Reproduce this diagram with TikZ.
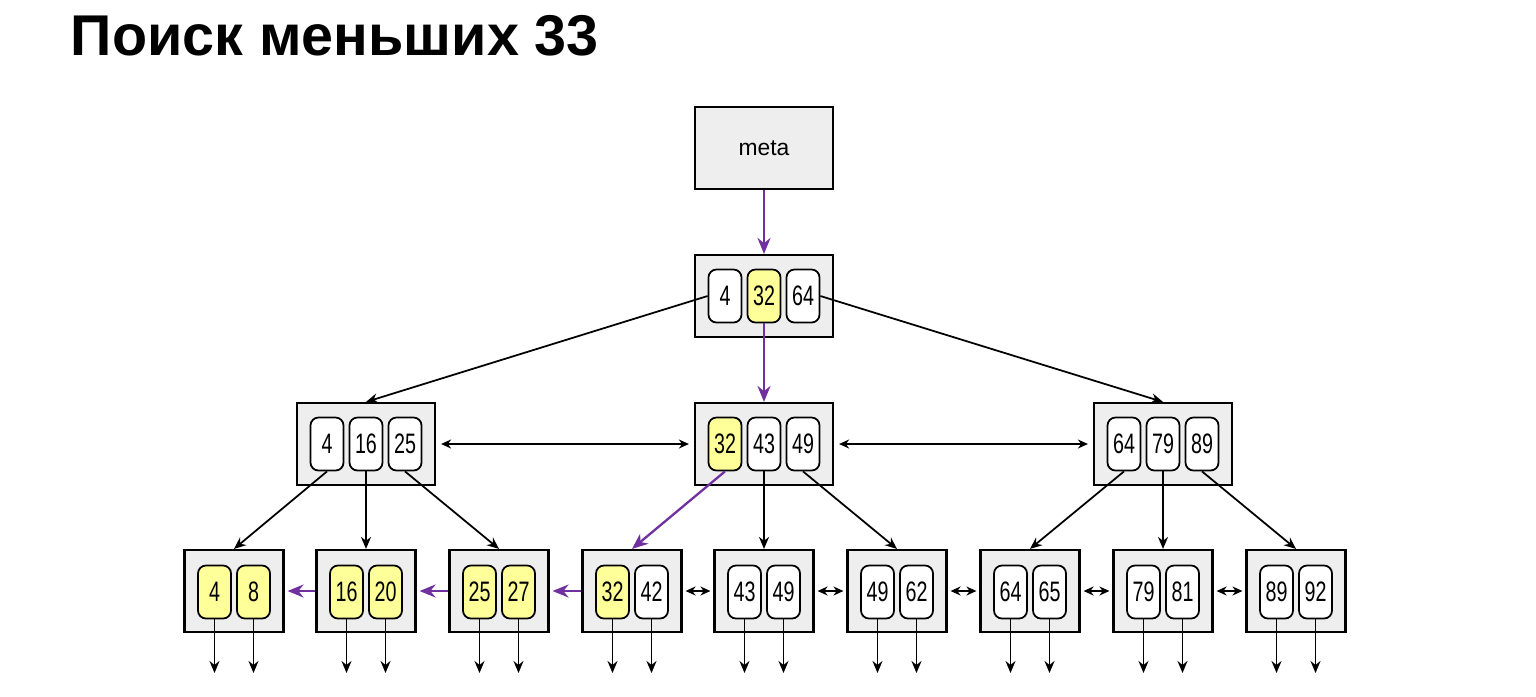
\documentclass[tikz,border=0pt]{standalone}
\usepackage{fontspec}
\setmainfont{Liberation Sans}
\newfontfamily\keyfont[FakeStretch=0.7]{Liberation Sans}
\usetikzlibrary{arrows.meta}
\definecolor{pagegray}{HTML}{EEEEEE}
\definecolor{hityellow}{HTML}{FFFF99}
\definecolor{searchpurple}{HTML}{7030A0}

\begin{document}
\begin{tikzpicture}[x=0.01cm, y=-0.01cm,
  page/.style={draw, line width=0.6pt, fill=pagegray, minimum width=1.38cm, minimum height=0.82cm, inner sep=0pt},
  leafpage/.style={page, minimum width=0.99cm},
  key/.style={draw, line width=0.5pt, rounded corners=0.08cm, fill=white, minimum width=0.33cm, minimum height=0.53cm, inner sep=0pt, font=\keyfont\fontsize{8}{9}\selectfont},
  hit/.style={key, fill=hityellow},
  link/.style={-{Stealth[length=0.12cm, width=0.1cm]}, line width=0.5pt},
  searchlink/.style={-{Stealth[length=0.16cm, width=0.13cm]}, line width=0.65pt, searchpurple},
  sibling/.style={{Stealth[length=0.1cm, width=0.09cm]}-{Stealth[length=0.1cm, width=0.09cm]}, line width=0.5pt}]
  \useasboundingbox (0,0) rectangle (1536,696);
  % --- Title ---
  \node[anchor=base west, inner sep=0pt, font=\bfseries\fontsize{16.35}{18}\selectfont] (title) at (70,55) {Поиск меньших 33};
  % --- Meta page and root ---
  \node[page] (meta) at (764,148) {\fontsize{6.5}{8}\selectfont meta};
  \node[page] (r) at (764,296) {};
  \foreach \k/\v/\s in {1/4/key, 2/32/hit, 3/64/key} {
    \node[\s] (r-\k) at ({764+(\k-2)*39},296) {\v};
  }
  % --- Inner pages ---
  \foreach \n/\cx/\va/\sa/\vb/\sb/\vc/\sc in {m1/366/4/key/16/key/25/key, m2/764/32/hit/43/key/49/key, m3/1163/64/key/79/key/89/key} {
    \node[page] (\n) at (\cx,444) {};
    \node[\sa] (\n-1) at (\cx-39,444) {\va};
    \node[\sb] (\n-2) at (\cx,444) {\vb};
    \node[\sc] (\n-3) at (\cx+39,444) {\vc};
  }
  % --- Leaf pages ---
  \foreach \n/\cx/\va/\sa/\vb/\sb in {l1/234/4/hit/8/hit, l2/366/16/hit/20/hit, l3/499/25/hit/27/hit,
      l4/632/32/hit/42/key, l5/764/43/key/49/key, l6/897/49/key/62/key,
      l7/1030/64/key/65/key, l8/1163/79/key/81/key, l9/1296/89/key/92/key} {
    \node[leafpage] (\n) at (\cx,591) {};
    \node[\sa] (\n-1) at (\cx-19.5,592) {\va};
    \node[\sb] (\n-2) at (\cx+19.5,592) {\vb};
    \foreach \k in {1,2} {
      \coordinate (\n-\k-down) at (\n-\k.south |- 0,673);
      \draw[link] (\n-\k.south) -- (\n-\k-down);
    }
  }
  % --- Search path ---
  \draw[searchlink] (meta) -- (r);
  \draw[searchlink] (r-2.south) -- (m2.north);
  \draw[searchlink] (m2-1.south) -- (l4.north);
  \foreach \a/\b in {l4/l3, l3/l2, l2/l1} {
    \draw[searchlink, shorten >=0.03cm] (\a.west) -- (\b.east);
  }
  % --- Other links ---
  \draw[link] (r-1.west) -- (m1.north);
  \draw[link] (r-3.east) -- (m3.north);
  \draw[sibling, shorten <=0.05cm, shorten >=0.05cm] (m1) -- (m2);
  \draw[sibling, shorten <=0.05cm, shorten >=0.05cm] (m2) -- (m3);
  \foreach \p/\k/\c in {m1/1/l1, m1/2/l2, m1/3/l3, m2/2/l5, m2/3/l6, m3/1/l7, m3/2/l8, m3/3/l9} {
    \draw[link] (\p-\k.south) -- (\c.north);
  }
  \foreach \a/\b in {l4/l5, l5/l6, l6/l7, l7/l8, l8/l9} {
    \draw[sibling, shorten <=0.03cm, shorten >=0.03cm] (\a) -- (\b);
  }
\end{tikzpicture}
\end{document}
